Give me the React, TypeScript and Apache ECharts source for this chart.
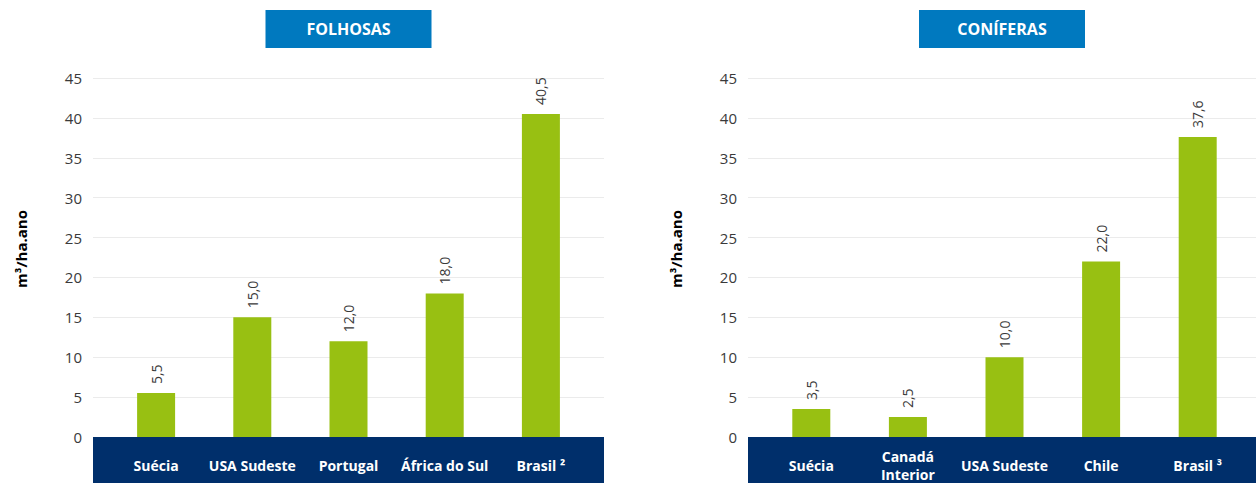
import React, { useEffect, useRef } from "react";
import * as echarts from "echarts";

const folhosasCategories = ["Suécia", "USA Sudeste", "Portugal", "África do Sul", "Brasil ²"];
const folhosasValues = [5.5, 15.0, 12.0, 18.0, 40.5];
const coniferasCategories = ["Suécia", "Canadá\nInterior", "USA Sudeste", "Chile", "Brasil ³"];
const coniferasValues = [3.5, 2.5, 10.0, 22.0, 37.6];
const yMin = 0;
const yMax = 45;
const yInterval = 5;
const titles = ["FOLHOSAS", "CONÍFERAS"];
const yName = "m³/ha.ano";

const BAR = "#98c012";
const NAVY = "#002f6b";
const BLUE = "#0079bf";
const GRIDC = "#ebebeb";
const TXT = "#3a3a3a";
const FONT = "'Open Sans', 'Noto Sans', sans-serif";

export default function App() {
  const ref = useRef<HTMLDivElement>(null);
  useEffect(() => {
    document.body.style.margin = "0";
    const chart = echarts.init(ref.current!, undefined, { renderer: "svg" });

    const panels = [
      { bandL: 93, bandR: 604, catL: 108, catW: 481, cats: folhosasCategories, vals: folhosasValues, title: titles[0], nameX: 21 },
      { bandL: 748, bandR: 1256, catL: 763, catW: 483, cats: coniferasCategories, vals: coniferasValues, title: titles[1], nameX: 676 },
    ];
    const top = 78;
    const height = 359;

    const grid: any[] = [];
    const xAxis: any[] = [];
    const yAxis: any[] = [];
    const series: any[] = [];
    const graphic: any[] = [];

    panels.forEach((p, i) => {
      const gA = i * 2;
      const gB = i * 2 + 1;
      grid.push({ left: p.bandL, top, width: p.bandR - p.bandL, height });
      grid.push({ left: p.catL, top, width: p.catW, height });
      xAxis.push({ gridIndex: gA, type: "value", min: 0, max: 1, show: false });
      xAxis.push({
        gridIndex: gB,
        type: "category",
        data: p.cats,
        z: 10,
        axisLine: { show: false },
        axisTick: { show: false },
        axisLabel: {
          margin: 28,
          verticalAlign: "middle",
          color: "#ffffff",
          fontWeight: "bold",
          fontSize: 14,
          lineHeight: 18,
          fontFamily: FONT,
          interval: 0,
        },
      });
      yAxis.push({
        gridIndex: gA,
        type: "value",
        min: yMin,
        max: yMax,
        interval: yInterval,
        axisLine: { show: false },
        axisTick: { show: false },
        axisLabel: { margin: 11, fontSize: 15, color: TXT, fontFamily: FONT },
        splitLine: { lineStyle: { color: GRIDC, width: 1 } },
      });
      yAxis.push({ gridIndex: gB, type: "value", min: yMin, max: yMax, interval: yInterval, show: false });
      series.push({
        type: "bar",
        xAxisIndex: gB,
        yAxisIndex: gB,
        data: p.vals,
        barWidth: 38,
        itemStyle: { color: BAR },
        label: {
          show: true,
          position: "top",
          rotate: 90,
          align: "left",
          verticalAlign: "middle",
          distance: 9,
          fontSize: 14,
          color: TXT,
          fontFamily: FONT,
          formatter: (d: any) => Number(d.value).toFixed(1).replace(".", ","),
        },
      });
      const cx = (p.bandL + p.bandR) / 2;
      graphic.push({
        type: "rect",
        z: 1,
        shape: { x: p.bandL, y: top + height, width: p.bandR - p.bandL, height: 483 - top - height },
        style: { fill: NAVY },
      });
      graphic.push({
        type: "rect",
        z: 1,
        shape: { x: cx - 83, y: 10, width: 166, height: 38 },
        style: { fill: BLUE },
      });
      graphic.push({
        type: "text",
        z: 2,
        x: cx,
        y: 29,
        style: {
          text: p.title,
          fill: "#ffffff",
          font: `bold 16px ${FONT}`,
          textAlign: "center",
          textVerticalAlign: "middle",
        },
      });
      graphic.push({
        type: "text",
        z: 2,
        x: p.nameX,
        y: 249,
        rotation: Math.PI / 2,
        style: {
          text: yName,
          fill: "#000000",
          font: `bold 15px ${FONT}`,
          textAlign: "center",
          textVerticalAlign: "middle",
        },
      });
    });

    chart.setOption({ animation: false, grid, xAxis, yAxis, series, graphic });
    return () => chart.dispose();
  }, []);
  return <div ref={ref} style={{ width: 1256, height: 483 }} />;
}
